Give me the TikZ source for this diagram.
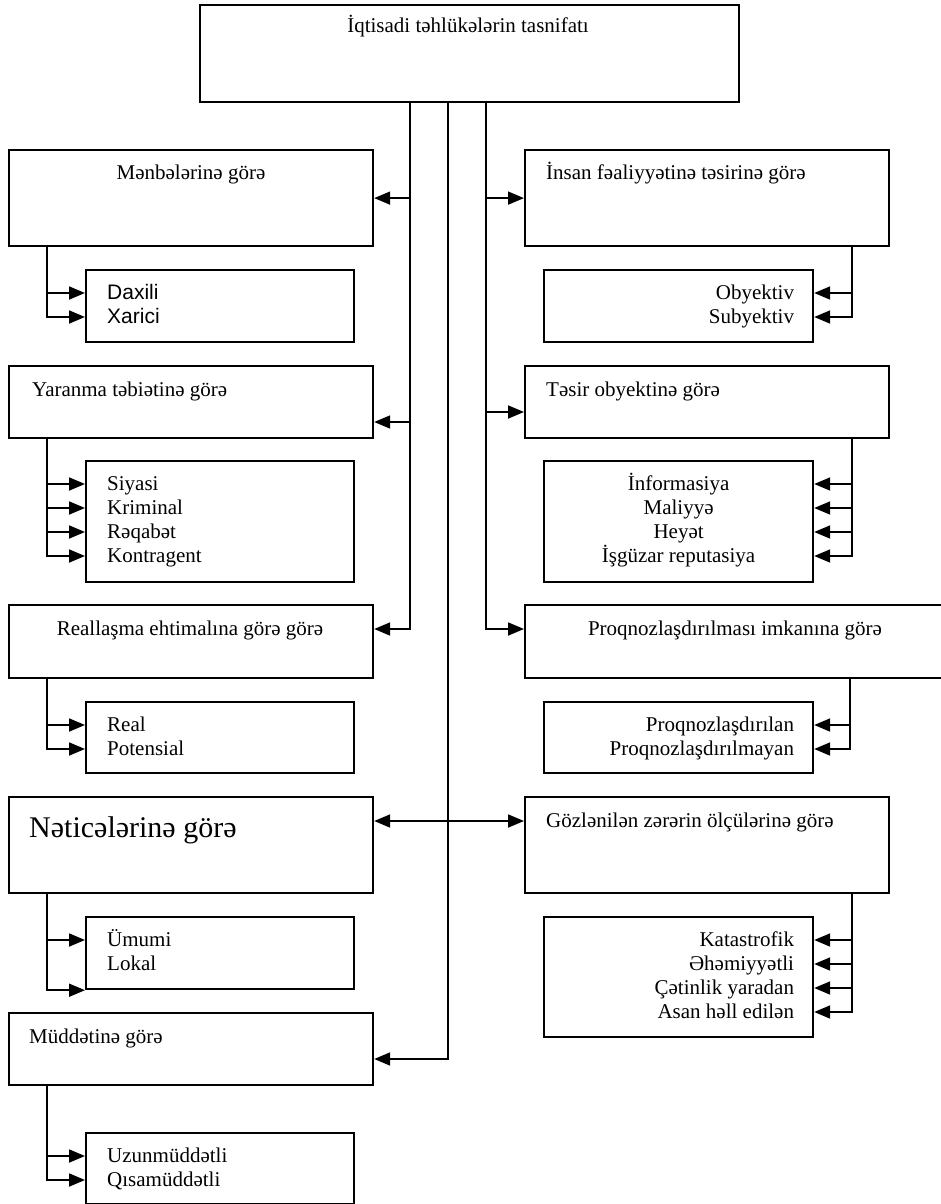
\documentclass[tikz,border=0pt]{standalone}
\usepackage{fontspec}
\setmainfont{Liberation Serif}
\newfontfamily\arialfont{Liberation Sans}
\usetikzlibrary{calc}
\usetikzlibrary{arrows.meta}
\tikzstyle{klass}=[draw,line width=2.2pt,inner sep=0pt,anchor=north west]
\tikzstyle{trunk}=[line width=1.8pt]
\tikzstyle{arr}=[line width=1.8pt,-{Triangle[length=16pt,width=13pt]}]
\tikzstyle{head}=[inner sep=0pt,anchor=base,font=\fontsize{21}{24}\selectfont]
\tikzstyle{item}=[inner sep=0pt,text height=15pt,text depth=3pt,font=\fontsize{21}{24}\selectfont]
\newcommand{\klassbox}[5]{% name, left, top, right, bottom (page pixels)
	\node[klass,minimum width={#4-#2},minimum height={#5-#3}] (#1) at (#2,#3) {};
}
\newcommand{\leftitems}[3]{% box, branch, items
	\foreach \lbl [count=\idx] in {#3} {
		\node[item,anchor=west] (#1-\idx) at ($(#1.north west)+(22,24*\idx)$) {\lbl};
		\draw[arr] (#2) |- (#1.west |- #1-\idx);
	}
}
\newcommand{\rightitems}[4][east]{% anchor, box, branch, items
	\foreach \lbl [count=\idx] in {#4} {
		\node[item,anchor=#1] (#2-\idx) at ($(#2.north #1)+(-20,24*\idx)$) {\lbl};
		\draw[arr] (#3) |- (#2.east |- #2-\idx);
	}
}

\begin{document}
\begin{tikzpicture}[x=1pt,y=-1pt]
	\useasboundingbox (0,0) rectangle (941,1204);
	\clip (0,0) rectangle (941,1204);
	\klassbox{top}{199}{4}{738}{101}
	\node[head] (top-t) at (468,33) {İqtisadi təhlükələrin tasnifatı};
	\coordinate (t1) at (410,101);
	\coordinate (t2) at (448,101);
	\coordinate (t3) at (486,101);

	% left column
	\klassbox{menbe}{8}{149}{372}{245}
	\node[head] (menbe-t) at (191,179) {Mənbələrinə görə};
	\klassbox{menbe-s}{85}{269}{353}{341}
	\coordinate (menbe-b) at ($(menbe.south west)+(39,0)$);
	\leftitems{menbe-s}{menbe-b}{{\arialfont Daxili},{\arialfont Xarici}}

	\klassbox{yaran}{8}{365}{372}{437}
	\node[head,anchor=base west] (yaran-t) at (32,396) {Yaranma təbiətinə görə};
	\klassbox{yaran-s}{85}{460}{353}{581}
	\coordinate (yaran-b) at ($(yaran.south west)+(39,0)$);
	\leftitems{yaran-s}{yaran-b}{Siyasi,Kriminal,Rəqabət,Kontragent}

	\klassbox{real}{8}{604}{372}{677}
	\node[head] (real-t) at (190,635) {Reallaşma ehtimalına görə görə};
	\klassbox{real-s}{85}{701}{353}{772}
	\coordinate (real-b) at ($(real.south west)+(39,0)$);
	\leftitems{real-s}{real-b}{Real,Potensial}

	\klassbox{neti}{8}{796}{372}{892}
	\node[head,anchor=base west,font=\fontsize{30}{36}\selectfont] (neti-t) at (29,837) {Nəticələrinə görə};
	\klassbox{neti-s}{85}{916}{353}{988}
	\coordinate (neti-b) at ($(neti.south west)+(39,0)$);
	\node[item,anchor=west] (neti-s-1) at ($(neti-s.north west)+(22,24)$) {Ümumi};
	\node[item,anchor=west] (neti-s-2) at ($(neti-s.north west)+(22,48)$) {Lokal};
	\draw[arr] (neti-b) |- (neti-s.west |- neti-s-1);
	\draw[arr] (neti-b) |- (neti-s.south west);

	\klassbox{mudd}{8}{1012}{372}{1084}
	\node[head,anchor=base west] (mudd-t) at (29,1043) {Müddətinə görə};
	\klassbox{mudd-s}{85}{1132}{353}{1203}
	\coordinate (mudd-b) at ($(mudd.south west)+(39,0)$);
	\leftitems{mudd-s}{mudd-b}{Uzunmüddətli,Qısamüddətli}

	% right column
	\klassbox{insan}{524}{149}{888}{245}
	\node[head,anchor=base west] (insan-t) at (546,179) {İnsan fəaliyyətinə təsirinə görə};
	\klassbox{insan-s}{543}{269}{812}{341}
	\coordinate (insan-b) at ($(insan.south east)+(-38,0)$);
	\rightitems{insan-s}{insan-b}{Obyektiv,Subyektiv}

	\klassbox{tesir}{524}{365}{888}{437}
	\node[head,anchor=base west] (tesir-t) at (546,396) {Təsir obyektinə görə};
	\klassbox{tesir-s}{543}{460}{812}{581}
	\coordinate (tesir-b) at ($(tesir.south east)+(-38,0)$);
	\foreach \lbl [count=\idx] in {İnformasiya,Maliyyə,Heyət,İşgüzar reputasiya} {
		\node[item] (tesir-s-\idx) at ($(tesir-s.north)+(0,24*\idx)$) {\lbl};
		\draw[arr] (tesir-b) |- (tesir-s.east |- tesir-s-\idx);
	}

	\klassbox{proq}{524}{604}{946}{677}
	\node[head] (proq-t) at (735,635) {Proqnozlaşdırılması imkanına görə};
	\klassbox{proq-s}{543}{701}{812}{772}
	\coordinate (proq-b) at ($(proq.south west)+(326,0)$);
	\rightitems{proq-s}{proq-b}{Proqnozlaşdırılan,Proqnozlaşdırılmayan}

	\klassbox{gozle}{524}{796}{888}{892}
	\node[head,anchor=base west] (gozle-t) at (546,827) {Gözlənilən zərərin ölçülərinə görə};
	\klassbox{gozle-s}{543}{916}{812}{1036}
	\coordinate (gozle-b) at ($(gozle.south east)+(-38,0)$);
	\rightitems{gozle-s}{gozle-b}{Katastrofik,Əhəmiyyətli,Çətinlik yaradan,Asan həll edilən}

	% trunks from the top box
	\coordinate (yaran-in) at ($(yaran.north east)+(0,57)$);
	\coordinate (tesir-in) at ($(tesir.north west)+(0,47)$);
	\draw[arr] (t1) |- ($(real.north east)+(0,25)$);
	\draw[arr] (t1 |- menbe.east) -- (menbe.east);
	\draw[arr] (t1 |- yaran-in) -- (yaran-in);
	\draw[arr] (t2) |- ($(mudd.north east)+(0,47)$);
	\draw[arr] (t3) |- ($(proq.north west)+(0,25)$);
	\draw[arr] (t3 |- insan.west) -- (insan.west);
	\draw[arr] (t3 |- tesir-in) -- (tesir-in);
	\draw[trunk,{Triangle[length=16pt,width=13pt]}-{Triangle[length=16pt,width=13pt]}] ($(neti.north east)+(0,25)$) -- ($(gozle.north west)+(0,25)$);
\end{tikzpicture}
\end{document}
